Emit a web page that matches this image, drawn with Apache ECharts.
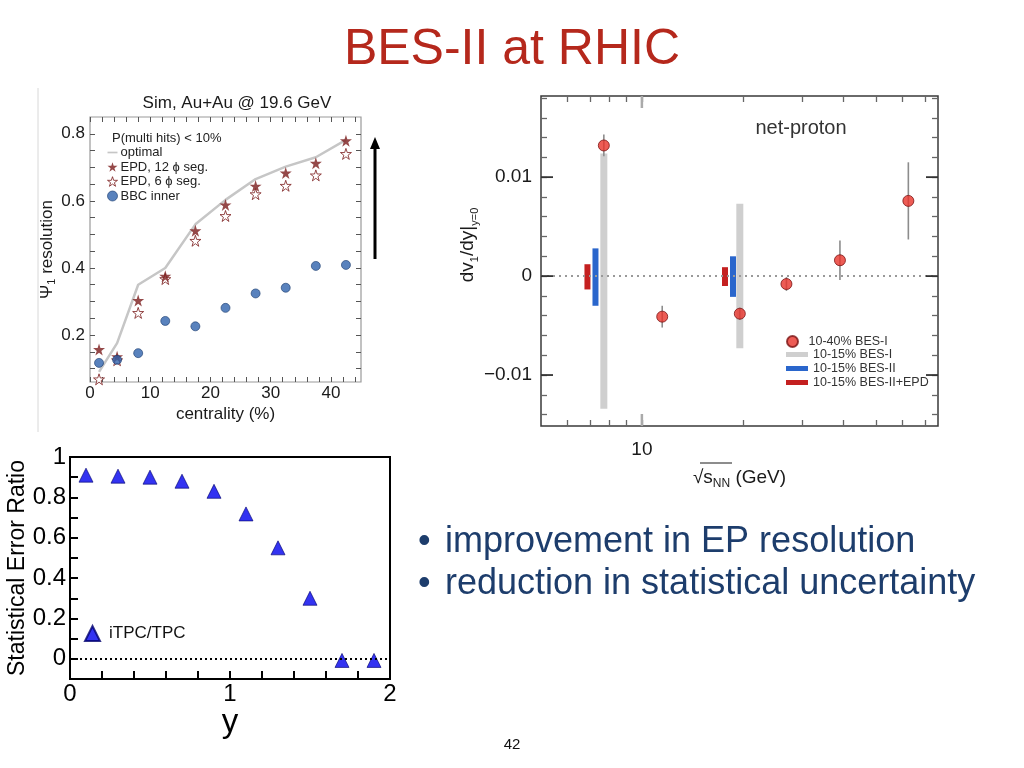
<!DOCTYPE html>
<html><head><meta charset="utf-8">
<script src="https://cdn.jsdelivr.net/npm/echarts@6/dist/echarts.min.js"></script>
<style>html,body{margin:0;padding:0;background:#fff}#main{width:1024px;height:768px}</style>
</head><body><div id="main"></div>
<script>
// ---------- Chart 1: EP resolution vs centrality ----------
const centrality = [1.5, 4.5, 8, 12.5, 17.5, 22.5, 27.5, 32.5, 37.5, 42.5];
const optimalRes = [0.09, 0.176, 0.35, 0.40, 0.53, 0.603, 0.665, 0.702, 0.73, 0.782];
const epd12Res = [0.157, 0.135, 0.303, 0.375, 0.511, 0.588, 0.644, 0.683, 0.712, 0.779];
const epd6Res = [0.068, 0.125, 0.266, 0.367, 0.481, 0.555, 0.62, 0.645, 0.676, 0.74];
const bbcRes = [0.117, 0.126, 0.146, 0.242, 0.226, 0.281, 0.324, 0.341, 0.406, 0.409];
const c1XTicks = [0,2,4,6,8,10,12,14,16,18,20,22,24,26,28,30,32,34,36,38,40,42,44];
const c1XLabels = [0,10,20,30,40];
const c1YTicks = [0.1,0.15,0.2,0.25,0.3,0.35,0.4,0.45,0.5,0.55,0.6,0.65,0.7,0.75,0.8];
const c1YLabels = [0.2,0.4,0.6,0.8];

// ---------- Chart 2: net-proton dv1/dy vs energy ----------
const energyBES1 = [7.7, 11.5, 19.6, 27, 39, 62.4];
const dv1Slope = [0.0132, -0.0041, -0.0038, -0.0008, 0.0016, 0.0076];
const dv1Err = [0.0011, 0.0011, 0.0006, 0.0007, 0.002, 0.0039];
const greyBandE = [7.7, 19.6];
const greyBandLo = [-0.0134, -0.0073];
const greyBandHi = [0.0124, 0.0073];
const blueBandE = [7.27, 18.7];
const blueBandLo = [-0.0030, -0.0021];
const blueBandHi = [0.0028, 0.0020];
const redBandE = [6.88, 17.7];
const redBandLo = [-0.00135, -0.0010];
const redBandHi = [0.0012, 0.0009];
const c2XTicks = [6,7,8,9,10,20,30,40,50,60,70];
const c2XLabels = [10];
const c2XMajor = [10];
const c2YTicks = [-0.014,-0.012,-0.01,-0.008,-0.006,-0.004,-0.002,0,0.002,0.004,0.006,0.008,0.01,0.012,0.014,0.016,0.018];
const c2YLabels = [-0.01, 0, 0.01];
const c2YLabelText = ['\u22120.01', '0', '0.01'];
const c2YMajor = [-0.01, 0, 0.01];

// ---------- Chart 3: statistical error ratio vs y ----------
const rapidity = [0.1, 0.3, 0.5, 0.7, 0.9, 1.1, 1.3, 1.5, 1.7, 1.9];
const errRatio = [0.91, 0.905, 0.90, 0.88, 0.83, 0.718, 0.55, 0.30, -0.008, -0.008];
const c3XTicks = [0,0.2,0.4,0.6,0.8,1,1.2,1.4,1.6,1.8,2];
const c3XLabels = [0,1,2];
const c3YTicks = [0,0.1,0.2,0.3,0.4,0.5,0.6,0.7,0.8,0.9,1];
const c3YLabels = [0,0.2,0.4,0.6,0.8,1];

const FONT = '"Liberation Sans", Arial, Helvetica, sans-serif';
const STAR = 'path://M50,2 L61.8,38.2 L100,38.2 L69.1,61.8 L80.9,98 L50,75.6 L19.1,98 L30.9,61.8 L0,38.2 L38.2,38.2 Z';
const LINEICON = 'path://M0,0 L24,0 L24,4 L0,4 Z';
const zip = (a, b) => a.map((v, i) => [v, b[i]]);
const zip3 = (a, b, c) => a.map((v, i) => [v, b[i], c[i]]);

function bandItem(width, color) {
  return function (params, api) {
    const x = api.value(0), lo = api.value(1), hi = api.value(2);
    const p1 = api.coord([x, hi]), p2 = api.coord([x, lo]);
    return {type: 'rect', shape: {x: p1[0] - width / 2, y: p1[1], width: width, height: p2[1] - p1[1]}, style: {fill: color}};
  };
}
function errItem(params, api) {
  const x = api.value(0), lo = api.value(1), hi = api.value(2);
  const p1 = api.coord([x, hi]), p2 = api.coord([x, lo]);
  return {type: 'line', shape: {x1: p1[0], y1: p1[1], x2: p2[0], y2: p2[1]}, style: {stroke: '#8c8c8c', lineWidth: 1.6}};
}
function yMajorTickItem(params, api) {
  const cs = params.coordSys;
  const p = api.coord([10, api.value(1)]);
  return {type: 'group', children: [
    {type: 'line', shape: {x1: cs.x, y1: p[1], x2: cs.x + 12, y2: p[1]}, style: {stroke: '#333', lineWidth: 1.8}},
    {type: 'line', shape: {x1: cs.x + cs.width - 12, y1: p[1], x2: cs.x + cs.width, y2: p[1]}, style: {stroke: '#333', lineWidth: 1.8}}
  ]};
}
function xMajorTickItem(params, api) {
  const cs = params.coordSys;
  const p = api.coord([api.value(0), 0]);
  return {type: 'group', children: [
    {type: 'line', shape: {x1: p[0], y1: cs.y + cs.height, x2: p[0], y2: cs.y + cs.height - 12}, style: {stroke: '#aaa', lineWidth: 2.5}},
    {type: 'line', shape: {x1: p[0], y1: cs.y, x2: p[0], y2: cs.y + 12}, style: {stroke: '#aaa', lineWidth: 2.5}}
  ]};
}

const noLine = {show: false, onZero: false};
const tickStyle1 = {show: true, inside: true, length: 5, lineStyle: {color: '#555', width: 1}};
const tickStyle2 = {show: true, inside: true, length: 6, lineStyle: {color: '#666', width: 1.3}};

const option = {
  animation: false,
  backgroundColor: '#ffffff',
  textStyle: {fontFamily: FONT},
  grid: [
    {left: 90, top: 117, width: 271, height: 265, show: true, borderColor: '#9a9a9a', borderWidth: 1.2},
    {left: 541, top: 96, width: 397, height: 330, show: true, borderColor: '#3a3a3a', borderWidth: 1.5},
    {left: 70, top: 457, width: 320, height: 222, show: true, borderColor: '#000', borderWidth: 2}
  ],
  xAxis: [
    {gridIndex: 0, type: 'value', min: 0, max: 45, position: 'bottom',
      axisLine: noLine, splitLine: {show: false},
      axisTick: Object.assign({customValues: c1XTicks}, tickStyle1),
      axisLabel: {customValues: c1XLabels, fontSize: 17, color: '#1a1a1a', margin: 3, fontFamily: FONT},
      name: 'centrality (%)', nameLocation: 'middle', nameGap: 24,
      nameTextStyle: {fontSize: 17, color: '#1a1a1a', fontFamily: FONT}},
    {gridIndex: 0, type: 'value', min: 0, max: 45, position: 'top',
      axisLine: noLine, splitLine: {show: false},
      axisTick: Object.assign({customValues: c1XTicks}, tickStyle1), axisLabel: {show: false}},
    {gridIndex: 1, type: 'log', logBase: 10, min: 5, max: 76.5, position: 'bottom',
      axisLine: noLine, splitLine: {show: false},
      axisTick: Object.assign({customValues: c2XTicks}, tickStyle2),
      axisLabel: {customValues: c2XLabels, fontSize: 19, color: '#1a1a1a', margin: 14, fontFamily: FONT},
      name: '{a|\u221A}{a|s}{s|NN}{a| (GeV)}', nameLocation: 'middle', nameGap: 40,
      nameTextStyle: {fontFamily: FONT, rich: {
        a: {fontSize: 19, color: '#1a1a1a', lineHeight: 24, fontFamily: FONT},
        s: {fontSize: 12, color: '#1a1a1a', lineHeight: 12, verticalAlign: 'bottom', fontFamily: FONT}}}},
    {gridIndex: 1, type: 'log', logBase: 10, min: 5, max: 76.5, position: 'top',
      axisLine: noLine, splitLine: {show: false},
      axisTick: Object.assign({customValues: c2XTicks}, tickStyle2), axisLabel: {show: false}},
    {gridIndex: 2, type: 'value', min: 0, max: 2, position: 'bottom',
      axisLine: noLine, splitLine: {show: false},
      axisTick: {show: true, inside: true, length: 8, customValues: c3XTicks, lineStyle: {color: '#000', width: 2}},
      axisLabel: {customValues: c3XLabels, fontSize: 24, color: '#000', margin: 3, fontFamily: FONT},
      name: 'y', nameLocation: 'middle', nameGap: 20,
      nameTextStyle: {fontSize: 33, color: '#000', fontFamily: FONT}}
  ],
  yAxis: [
    {gridIndex: 0, type: 'value', min: 0.06, max: 0.85, position: 'left',
      axisLine: noLine, splitLine: {show: false},
      axisTick: Object.assign({customValues: c1YTicks}, tickStyle1),
      axisLabel: {customValues: c1YLabels, fontSize: 17, color: '#1a1a1a', margin: 5, fontFamily: FONT,
        formatter: v => v.toFixed(1)},
      name: '{a|\u03A8}{s|1}{a| resolution}', nameLocation: 'middle', nameGap: 32,
      nameTextStyle: {fontFamily: FONT, rich: {
        a: {fontSize: 17, color: '#1a1a1a', lineHeight: 20, fontFamily: FONT},
        s: {fontSize: 11, color: '#1a1a1a', lineHeight: 10, verticalAlign: 'bottom', fontFamily: FONT}}}},
    {gridIndex: 0, type: 'value', min: 0.06, max: 0.85, position: 'right',
      axisLine: noLine, splitLine: {show: false},
      axisTick: Object.assign({customValues: c1YTicks}, tickStyle1), axisLabel: {show: false}},
    {gridIndex: 1, type: 'value', min: -0.01515, max: 0.0182, position: 'left',
      axisLine: noLine, splitLine: {show: false},
      axisTick: Object.assign({customValues: c2YTicks}, tickStyle2),
      axisLabel: {customValues: c2YLabels, fontSize: 19, color: '#1a1a1a', margin: 9, fontFamily: FONT,
        formatter: v => c2YLabelText[c2YLabels.findIndex(t => Math.abs(t - v) < 1e-9)]},
      name: '{a|dv}{s|1}{a|/dy|}{s|y=0}', nameLocation: 'middle', nameGap: 52,
      nameTextStyle: {fontFamily: FONT, padding: [0, 0, 0, 32], rich: {
        a: {fontSize: 19, color: '#1a1a1a', lineHeight: 24, fontFamily: FONT},
        s: {fontSize: 11, color: '#1a1a1a', lineHeight: 11, verticalAlign: 'bottom', fontFamily: FONT}}}},
    {gridIndex: 1, type: 'value', min: -0.01515, max: 0.0182, position: 'right',
      axisLine: noLine, splitLine: {show: false},
      axisTick: Object.assign({customValues: c2YTicks}, tickStyle2), axisLabel: {show: false}},
    {gridIndex: 2, type: 'value', min: -0.1, max: 1.0, position: 'left',
      axisLine: noLine, splitLine: {show: false},
      axisTick: {show: true, inside: true, length: 8, customValues: c3YTicks, lineStyle: {color: '#000', width: 2}},
      axisLabel: {customValues: c3YLabels, fontSize: 24, color: '#000', margin: 4, fontFamily: FONT,
        formatter: v => (v === 0 || v === 1) ? String(v) : v.toFixed(1)},
      name: 'Statistical Error Ratio', nameLocation: 'middle', nameGap: 37,
      nameTextStyle: {fontSize: 23, color: '#000', fontFamily: FONT}}
  ],
  legend: [
    {orient: 'vertical', left: 107, top: 146, padding: 0, itemWidth: 10, itemHeight: 10, itemGap: 1.5,
      symbolKeepAspect: true,
      textStyle: {fontSize: 13, lineHeight: 13, color: '#222', fontFamily: FONT, padding: [0, 0, 0, -2]},
      data: [
        {name: 'optimal', icon: LINEICON, itemStyle: {color: '#c6c6c6', borderWidth: 0}},
        {name: 'EPD, 12 \u03D5 seg.', icon: STAR, itemStyle: {color: '#7a1c1c', borderWidth: 0}},
        {name: 'EPD, 6 \u03D5 seg.', icon: STAR, itemStyle: {color: '#ffffff', borderColor: '#7a1c1c', borderWidth: 1}},
        {name: 'BBC inner', icon: 'circle', itemStyle: {color: '#2f63ad', borderColor: '#1c3d70', borderWidth: 0.8}}
      ]},
    {orient: 'vertical', left: 786, top: 335, padding: 0, itemWidth: 22, itemHeight: 11,
      textStyle: {fontSize: 12.5, color: '#333', fontFamily: FONT},
      data: [{name: '10-40% BES-I', icon: 'circle'}]},
    {orient: 'vertical', left: 786, top: 348, padding: 0, itemWidth: 22, itemHeight: 5, itemGap: 1,
      textStyle: {fontSize: 12.5, lineHeight: 12.5, color: '#333', fontFamily: FONT},
      data: [{name: '10-15% BES-I', icon: 'rect'}, {name: '10-15% BES-II', icon: 'rect'}, {name: '10-15% BES-II+EPD', icon: 'rect'}]},
    {orient: 'vertical', left: 84, top: 625, padding: 0, itemWidth: 15, itemHeight: 15,
      textStyle: {fontSize: 17, color: '#111', fontFamily: FONT, padding: [0, 0, 0, 4]},
      data: ['iTPC/TPC']}
  ],
  series: [
    // chart 1
    {name: 'optimal', type: 'line', xAxisIndex: 0, yAxisIndex: 0, data: zip(centrality, optimalRes),
      symbol: 'none', lineStyle: {color: '#c6c6c6', width: 2.5}, itemStyle: {color: '#c6c6c6'}, z: 2},
    {name: 'EPD, 6 \u03D5 seg.', type: 'scatter', xAxisIndex: 0, yAxisIndex: 0, data: zip(centrality, epd6Res),
      symbol: STAR, symbolSize: 11, itemStyle: {color: '#ffffff', borderColor: '#7a1c1c', borderWidth: 1}, z: 3},
    {name: 'EPD, 12 \u03D5 seg.', type: 'scatter', xAxisIndex: 0, yAxisIndex: 0, data: zip(centrality, epd12Res),
      symbol: STAR, symbolSize: 12, itemStyle: {color: '#7a1c1c'}, z: 3},
    {name: 'BBC inner', type: 'scatter', xAxisIndex: 0, yAxisIndex: 0, data: zip(centrality, bbcRes),
      symbol: 'circle', symbolSize: 9, itemStyle: {color: '#2f63ad', borderColor: '#1c3d70', borderWidth: 0.8}, z: 4},
    // chart 2
    {name: '10-15% BES-I', type: 'custom', xAxisIndex: 2, yAxisIndex: 2, renderItem: bandItem(7, '#cfcfcf'),
      encode: {x: 0, y: [1, 2]}, itemStyle: {color: '#cfcfcf'}, data: zip3(greyBandE, greyBandLo, greyBandHi), z: 2},
    {name: '10-15% BES-II', type: 'custom', xAxisIndex: 2, yAxisIndex: 2, renderItem: bandItem(6, '#2a66cc'),
      encode: {x: 0, y: [1, 2]}, itemStyle: {color: '#2a66cc'}, data: zip3(blueBandE, blueBandLo, blueBandHi), z: 2},
    {name: '10-15% BES-II+EPD', type: 'custom', xAxisIndex: 2, yAxisIndex: 2, renderItem: bandItem(6, '#c42020'),
      encode: {x: 0, y: [1, 2]}, itemStyle: {color: '#c42020'}, data: zip3(redBandE, redBandLo, redBandHi), z: 2},
    {name: 'errbars', type: 'custom', xAxisIndex: 2, yAxisIndex: 2, renderItem: errItem,
      encode: {x: 0, y: [1, 2]}, data: energyBES1.map((e, i) => [e, dv1Slope[i] - dv1Err[i], dv1Slope[i] + dv1Err[i]]), z: 3},
    {name: 'ymajor', type: 'custom', xAxisIndex: 2, yAxisIndex: 2, renderItem: yMajorTickItem,
      data: c2YMajor.map(v => [10, v]), z: 5, silent: true},
    {name: 'xmajor', type: 'custom', xAxisIndex: 2, yAxisIndex: 2, renderItem: xMajorTickItem,
      data: c2XMajor.map(v => [v, 0]), z: 5, silent: true},
    {name: '10-40% BES-I', type: 'scatter', xAxisIndex: 2, yAxisIndex: 2, data: zip(energyBES1, dv1Slope),
      symbol: 'circle', symbolSize: 11, itemStyle: {color: '#e8332a', borderColor: '#7a1414', borderWidth: 1}, z: 4,
      markLine: {silent: true, symbol: 'none', label: {show: false},
        lineStyle: {type: [2, 4], color: '#999', width: 2}, data: [{yAxis: 0}]}},
    // chart 3
    {name: 'iTPC/TPC', type: 'scatter', xAxisIndex: 4, yAxisIndex: 4, data: zip(rapidity, errRatio),
      symbol: 'triangle', symbolSize: [14, 14], itemStyle: {color: '#0000ee', borderColor: '#00006e', borderWidth: 0.8}, z: 4,
      markLine: {silent: true, symbol: 'none', label: {show: false},
        lineStyle: {type: [2, 3], color: '#000', width: 2}, data: [{yAxis: 0}]}}
  ],
  graphic: [
    {type: 'text', left: 'center', top: 25, style: {text: 'BES-II at RHIC', font: '50px ' + FONT, fill: '#b5281c'}},
    {type: 'text', x: 237, y: 103, style: {text: 'Sim, Au+Au @ 19.6 GeV', font: '17px ' + FONT, fill: '#1a1a1a', align: 'center', verticalAlign: 'middle'}},
    {type: 'text', x: 112, y: 138, style: {text: 'P(multi hits) < 10%', font: '13px ' + FONT, fill: '#222', align: 'left', verticalAlign: 'middle'}},
    {type: 'text', x: 801, y: 128, style: {text: 'net-proton', font: '20px ' + FONT, fill: '#333', align: 'center', verticalAlign: 'middle'}},
    {type: 'line', shape: {x1: 700, y1: 463, x2: 732, y2: 463}, style: {stroke: '#1a1a1a', lineWidth: 1}},
    {type: 'line', shape: {x1: 38, y1: 88, x2: 38, y2: 432}, style: {stroke: '#d8d8d8', lineWidth: 1}},
    {type: 'line', shape: {x1: 375, y1: 259, x2: 375, y2: 146}, style: {stroke: '#000', lineWidth: 3}},
    {type: 'polygon', shape: {points: [[375, 137], [370, 149], [380, 149]]}, style: {fill: '#000'}},
    {type: 'text', x: 418, y: 542, style: {text: '\u2022', font: '36px ' + FONT, fill: '#1d3d6c', align: 'left', verticalAlign: 'middle'}},
    {type: 'text', x: 445, y: 542, style: {text: 'improvement in EP resolution', font: '36px ' + FONT, fill: '#1d3d6c', align: 'left', verticalAlign: 'middle'}},
    {type: 'text', x: 418, y: 584, style: {text: '\u2022', font: '36px ' + FONT, fill: '#1d3d6c', align: 'left', verticalAlign: 'middle'}},
    {type: 'text', x: 445, y: 584, style: {text: 'reduction in statistical uncertainty', font: '36px ' + FONT, fill: '#1d3d6c', align: 'left', verticalAlign: 'middle'}},
    {type: 'text', x: 512, y: 745, style: {text: '42', font: '15px ' + FONT, fill: '#111', align: 'center', verticalAlign: 'middle'}}
  ]
};

const chart = echarts.init(document.getElementById('main'));
chart.setOption(option);
</script>
</body></html>
